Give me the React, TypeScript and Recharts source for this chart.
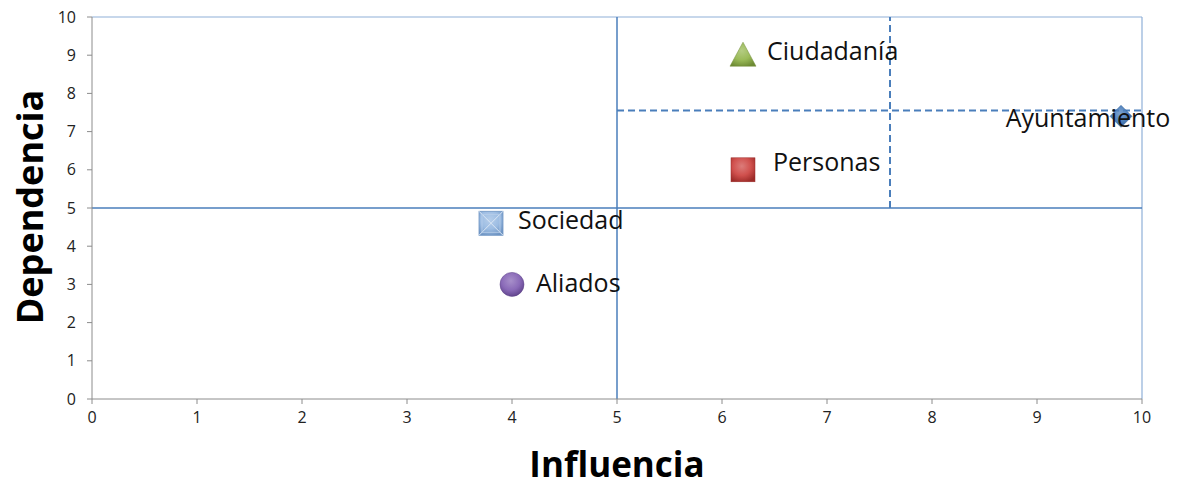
import React from 'react';
import { ScatterChart, Scatter, XAxis, YAxis, ReferenceLine } from 'recharts';

const actores = ['Ciudadanía', 'Ayuntamiento', 'Personas', 'Sociedad', 'Aliados'];
const influencia = [6.2, 9.8, 6.2, 3.8, 4.0];
const dependencia = [9.0, 7.4, 6.0, 4.6, 3.0];
const axisTicks = [0, 1, 2, 3, 4, 5, 6, 7, 8, 9, 10];

// quadrant dividers
const corteX = 5;
const corteY = 5;
const subCorteX = 7.6;
const subCorteY = 7.55;

const MARKERS: Record<string, { kind: string; color: string; dark: string; dx: number; dy: number; anchor: string }> = {
  'Ciudadanía': { kind: 'triangle', color: '#9bbb59', dark: '#6e8b34', dx: 24, dy: -5, anchor: 'start' },
  'Ayuntamiento': { kind: 'diamond', color: '#4f81bd', dark: '#2f5d93', dx: -33, dy: 1, anchor: 'middle' },
  'Personas': { kind: 'square', color: '#d0504d', dark: '#9c2b28', dx: 30, dy: -9, anchor: 'start' },
  'Sociedad': { kind: 'xsquare', color: '#9dbde3', dark: '#6f95c4', dx: 27, dy: -4, anchor: 'start' },
  'Aliados': { kind: 'circle', color: '#8a6ab8', dark: '#5b3f86', dx: 24, dy: -2, anchor: 'start' },
};

const FONT = 'Open Sans, sans-serif';

function Marker(props: any) {
  const { cx, cy, payload } = props;
  const m = MARKERS[payload.name];
  const gid = 'g-' + m.kind;
  let mark: React.ReactNode = null;
  if (m.kind === 'triangle') {
    mark = <polygon points={`${cx},${cy - 13} ${cx + 13},${cy + 11} ${cx - 13},${cy + 11}`} fill={`url(#${gid})`} stroke={m.dark} strokeWidth={0.5} />;
  } else if (m.kind === 'diamond') {
    mark = <polygon points={`${cx},${cy - 11} ${cx + 11},${cy} ${cx},${cy + 11} ${cx - 11},${cy}`} fill={`url(#${gid})`} stroke={m.dark} strokeWidth={0.5} />;
  } else if (m.kind === 'square') {
    mark = <rect x={cx - 12} y={cy - 12} width={24} height={24} fill={`url(#${gid})`} stroke={m.dark} strokeWidth={0.5} />;
  } else if (m.kind === 'xsquare') {
    mark = (
      <g>
        <rect x={cx - 12} y={cy - 12} width={24} height={24} fill={`url(#${gid})`} stroke={m.dark} strokeWidth={0.8} />
        <line x1={cx - 12} y1={cy - 12} x2={cx + 12} y2={cy + 12} stroke="#dbe7f5" strokeWidth={1} />
        <line x1={cx + 12} y1={cy - 12} x2={cx - 12} y2={cy + 12} stroke="#dbe7f5" strokeWidth={1} />
        <rect x={cx - 9} y={cy - 9} width={18} height={18} fill="none" stroke="#b9cfea" strokeWidth={0.8} />
      </g>
    );
  } else {
    mark = <circle cx={cx} cy={cy} r={12} fill={`url(#${gid})`} stroke={m.dark} strokeWidth={0.5} />;
  }
  return (
    <g>
      <defs>
        <radialGradient id={gid} cx="45%" cy="35%" r="70%">
          <stop offset="0%" stopColor={m.color} stopOpacity={0.75} />
          <stop offset="55%" stopColor={m.color} />
          <stop offset="100%" stopColor={m.dark} />
        </radialGradient>
      </defs>
      {mark}
      <text x={cx + m.dx} y={cy + m.dy} textAnchor={m.anchor} dominantBaseline="central" fontFamily={FONT} fontSize={25} fill="#111">
        {payload.name}
      </text>
    </g>
  );
}

export default function App() {
  const points = actores.map((name, i) => ({ name, x: influencia[i], y: dependencia[i] }));
  const tick = { fontFamily: FONT, fontSize: 16, fill: '#222' };
  return (
    <div style={{ position: 'absolute', left: 0, top: 0, width: 1180, height: 486, background: '#fff' }}>
      <ScatterChart width={1180} height={486} margin={{ top: 17, right: 38, left: 0, bottom: 0 }}>
        <XAxis
          type="number"
          dataKey="x"
          domain={[0, 10]}
          ticks={axisTicks}
          interval={0}
          height={87}
          stroke="#8c8c8c"
          tickSize={5}
          tickMargin={8}
          tick={tick}
          label={{
            content: () => (
              <text x={617} y={463} textAnchor="middle" dominantBaseline="central" fontFamily={FONT} fontWeight="bold" fontSize={35} fill="#000">
                Influencia
              </text>
            ),
          }}
        />
        <YAxis
          type="number"
          dataKey="y"
          domain={[0, 10]}
          ticks={axisTicks}
          interval={0}
          width={92}
          stroke="#8c8c8c"
          tickSize={5}
          tickMargin={11}
          tick={tick}
          label={{
            content: () => (
              <text x={29} y={207} transform="rotate(-90 29 207)" textAnchor="middle" dominantBaseline="central" fontFamily={FONT} fontWeight="bold" fontSize={36} fill="#000">
                Dependencia
              </text>
            ),
          }}
        />
        <ReferenceLine y={10} stroke="#8fb0d8" strokeWidth={1.2} />
        <ReferenceLine x={10} stroke="#8fb0d8" strokeWidth={1.2} />
        <ReferenceLine x={corteX} stroke="#4a7ebb" strokeWidth={1.5} />
        <ReferenceLine y={corteY} stroke="#4a7ebb" strokeWidth={1.5} />
        <ReferenceLine segment={[{ x: subCorteX, y: corteY }, { x: subCorteX, y: 10 }]} stroke="#4a7ebb" strokeWidth={2} strokeDasharray="7 4" />
        <ReferenceLine segment={[{ x: corteX, y: subCorteY }, { x: 10, y: subCorteY }]} stroke="#4a7ebb" strokeWidth={2} strokeDasharray="7 4" />
        <Scatter data={points} shape={Marker} isAnimationActive={false} />
      </ScatterChart>
    </div>
  );
}
